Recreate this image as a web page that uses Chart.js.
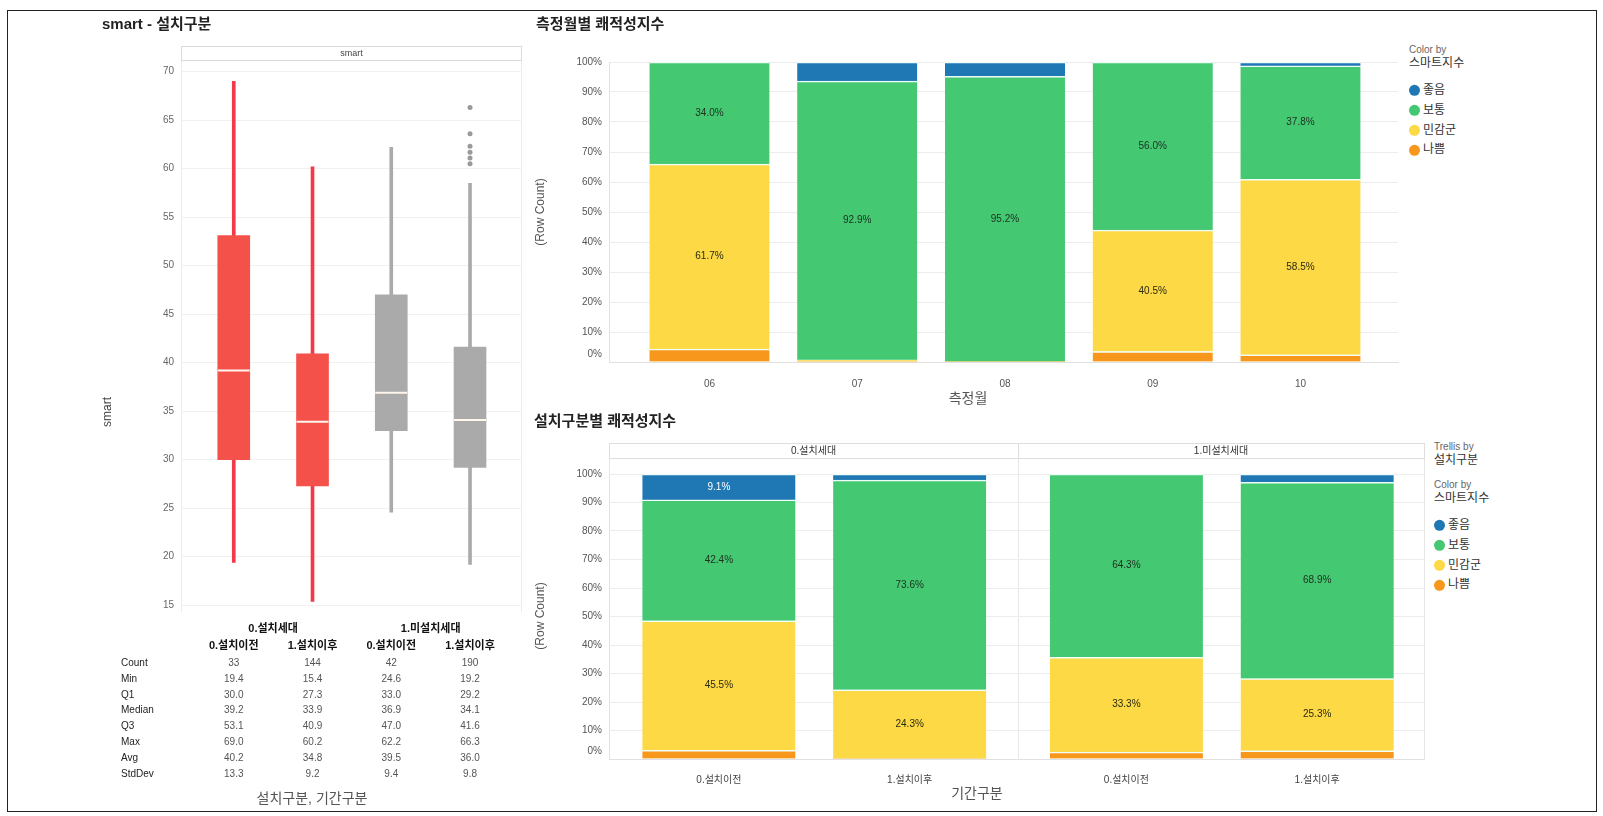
<!DOCTYPE html>
<html>
<head>
<meta charset="utf-8">
<script src="https://cdn.jsdelivr.net/npm/chart.js@4.4.0/dist/chart.umd.min.js"></script>
<style>
	body {
		margin: 0;
		width: 1603px;
		height: 816px;
		position: relative;
		overflow: hidden;
		background: #fff;
		font-family: "Liberation Sans", "Noto Sans CJK KR", sans-serif;
	}
	#frame {
		position: absolute;
		left: 7px;
		top: 10px;
		width: 1590px;
		height: 802px;
		border: 1.5px solid #222;
		box-sizing: border-box;
	}
	canvas {
		position: absolute;
	}
	.txt {
		position: absolute;
		white-space: nowrap;
		line-height: 1;
	}
	.dot {
		display: inline-block;
		width: 11px;
		height: 11px;
		border-radius: 50%;
		vertical-align: middle;
		margin-right: 3px;
	}
</style>
</head>
<body>
<div id="frame"></div>
<canvas id="box" width="540" height="816" style="left:0;top:0"></canvas>
<canvas id="month" width="880" height="370" style="left:520px;top:40px"></canvas>
<canvas id="inst" width="910" height="386" style="left:520px;top:430px"></canvas>
<script>
// ---- box plot : smart by 설치구분 / 기간구분 ----
const boxGroups = ["0.설치세대", "1.미설치세대"];
const boxPeriods = ["0.설치이전", "1.설치이후", "0.설치이전", "1.설치이후"];
const boxCount = [33, 144, 42, 190];
const boxMin = [19.4, 15.4, 24.6, 19.2];
const boxQ1 = [30.0, 27.3, 33.0, 29.2];
const boxMedian = [39.2, 33.9, 36.9, 34.1];
const boxQ3 = [53.1, 40.9, 47.0, 41.6];
const boxMax = [69.0, 60.2, 62.2, 66.3];
const boxAvg = [40.2, 34.8, 39.5, 36.0];
const boxStd = [13.3, 9.2, 9.4, 9.8];
const whiskerTop = [69.0, 60.2, 62.2, 58.5];
const outlierBox = [4, 4, 4, 4, 4, 4];
const outlierVal = [66.3, 63.6, 62.3, 61.7, 61.1, 60.5];
const boxTicks = [15, 20, 25, 30, 35, 40, 45, 50, 55, 60, 65, 70];

// ---- 측정월별 쾌적성지수 (%) ----
const months = ["06", "07", "08", "09", "10"];
const levels = ["좋음", "보통", "민감군", "나쁨"];
const monthGood = [0, 6.4, 4.8, 0, 1.3];
const monthNormal = [34.0, 92.9, 95.2, 56.0, 37.8];
const monthSensitive = [61.7, 0.7, 0, 40.5, 58.5];
const monthBad = [4.3, 0, 0, 3.5, 2.4];

// ---- 설치구분별 쾌적성지수 (%) ----
const trellis = ["0.설치세대", "1.미설치세대"];
const periods = ["0.설치이전", "1.설치이후", "0.설치이전", "1.설치이후"];
const instPanel = [0, 0, 1, 1];
const instPeriod = [0, 1, 0, 1];
const instGood = [9.1, 2.1, 0, 2.9];
const instNormal = [42.4, 73.6, 64.3, 68.9];
const instSensitive = [45.5, 24.3, 33.3, 25.3];
const instBad = [3.0, 0, 2.4, 2.9];
const pctTicks = [0, 10, 20, 30, 40, 50, 60, 70, 80, 90, 100];

const levelColors = ["#1f77b4", "#44c872", "#fdd945", "#f7971c"];
const labelColors = ["#ffffff", "#1d2f1f", "#2a2a10", "#222222"];
const boxFill = ["#f5514b", "#f5514b", "#aaaaaa", "#aaaaaa"];
const whiskerFill = ["#f23a4a", "#f23a4a", "#aaaaaa", "#aaaaaa"];
const FONT = '"Liberation Sans", "Noto Sans CJK KR", sans-serif';
const PANEL_SPAN = 2.136; // distance between trellis panels, in bar slots

Chart.defaults.font.family = FONT;
Chart.defaults.animation = false;

function addText(text, x, y, css, anchor) {
	var d = document.createElement("div");
	d.className = "txt";
	d.textContent = text;
	d.style.cssText += css;
	d.style.left = x + "px";
	d.style.top = y + "px";
	if (anchor === "rot") {
		d.style.transform = "translate(-50%,-50%) rotate(-90deg)";
	} else if (anchor === "center") {
		d.style.transform = "translate(-50%,-50%)";
	} else {
		d.style.transform = "translate(0,-50%)";
	}
	document.body.appendChild(d);
}

function addLegend(x, y, trellisName) {
	var yy = y;
	if (trellisName) {
		addText("Trellis by", x, yy, "font-size:10px;color:#666");
		addText(trellisName, x, yy + 13, "font-size:12px;color:#333");
		yy += 38;
	}
	addText("Color by", x, yy, "font-size:10px;color:#666");
	addText("스마트지수", x, yy + 13, "font-size:12px;color:#333");
	levels.forEach(function (lv, i) {
		var d = document.createElement("div");
		d.className = "txt";
		d.style.left = x + "px";
		d.style.top = yy + 40 + i * 19.8 + "px";
		d.style.transform = "translate(0,-50%)";
		d.style.fontSize = "12px";
		d.style.color = "#333";
		d.innerHTML = '<span class="dot" style="background:' + levelColors[i] + '"></span>' + lv;
		document.body.appendChild(d);
	});
}

function stackSets(series, thickness) {
	// drawn bottom-up: 나쁨, 민감군, 보통, 좋음
	return [3, 2, 1, 0].map(function (k) {
		return {
			label: levels[k],
			data: series[k],
			backgroundColor: levelColors[k],
			borderColor: "rgba(240,255,250,0.95)",
			borderWidth: { top: 1.5, right: 0, bottom: 0, left: 0 },
			borderSkipped: "start",
			barThickness: thickness,
			labelColor: labelColors[k],
		};
	});
}

var segLabels = {
	id: "segLabels",
	afterDatasetsDraw: function (chart) {
		var ctx = chart.ctx;
		ctx.save();
		ctx.font = "10px " + FONT;
		ctx.textAlign = "center";
		ctx.textBaseline = "middle";
		chart.data.datasets.forEach(function (ds, di) {
			chart.getDatasetMeta(di).data.forEach(function (bar, i) {
				var v = ds.data[i].y;
				if (v < 9) return;
				ctx.fillStyle = ds.labelColor;
				ctx.fillText(v.toFixed(1) + "%", bar.x, (bar.y + bar.base) / 2);
			});
		});
		// the 0% label sits a little above the baseline
		var a = chart.chartArea;
		ctx.textAlign = "right";
		ctx.fillStyle = "#555";
		ctx.fillText(pctTicks[0] + "%", a.left - 7, chart.scales.y.getPixelForValue(pctTicks[0]) - 8);
		ctx.restore();
	},
};

function pctY(width) {
	return {
		stacked: true,
		min: 0,
		max: 100,
		afterBuildTicks: function (axis) {
			axis.ticks = pctTicks.map(function (v) {
				return { value: v };
			});
		},
		afterFit: function (axis) {
			axis.width = width;
		},
		ticks: {
			color: "#555",
			font: { size: 10 },
			padding: 7,
			callback: function (v, i) {
				return i === 0 ? "" : v + "%";
			},
		},
		grid: { color: "#ededed", drawTicks: false },
		border: { color: "#e3e3e3" },
	};
}

// ---------- box plot ----------
var boxTable = {
	id: "boxTable",
	beforeDraw: function (chart) {
		var ctx = chart.ctx;
		var a = chart.chartArea;
		ctx.save();
		ctx.strokeStyle = "#ececec";
		ctx.lineWidth = 1;
		ctx.beginPath();
		ctx.moveTo(a.left + 0.5, 46);
		ctx.lineTo(a.left + 0.5, a.bottom);
		ctx.moveTo(a.right - 0.5, 46);
		ctx.lineTo(a.right - 0.5, a.bottom);
		ctx.stroke();
		ctx.strokeStyle = "#dadada";
		ctx.strokeRect(a.left + 0.5, 46.5, a.right - a.left - 1, 14);
		ctx.fillStyle = "#444";
		ctx.font = "9px " + FONT;
		ctx.textAlign = "center";
		ctx.textBaseline = "middle";
		ctx.fillText("smart", (a.left + a.right) / 2, 54);
		ctx.restore();
	},
	afterDraw: function (chart) {
		var ctx = chart.ctx;
		var xs = chart.scales.x;
		ctx.save();
		ctx.textAlign = "center";
		ctx.textBaseline = "middle";
		ctx.fillStyle = "#111";
		ctx.font = "bold 11px " + FONT;
		boxGroups.forEach(function (g, k) {
			var x = (xs.getPixelForValue(2 * k + 1) + xs.getPixelForValue(2 * k + 2)) / 2;
			ctx.fillText(g, x, 629);
		});
		boxPeriods.forEach(function (p, i) {
			ctx.fillText(p, xs.getPixelForValue(i + 1), 646);
		});
		var rows = [
			["Count", boxCount, 0],
			["Min", boxMin, 1],
			["Q1", boxQ1, 1],
			["Median", boxMedian, 1],
			["Q3", boxQ3, 1],
			["Max", boxMax, 1],
			["Avg", boxAvg, 1],
			["StdDev", boxStd, 1],
		];
		ctx.font = "10px " + FONT;
		rows.forEach(function (r, j) {
			var y = 663 + j * 15.9;
			ctx.textAlign = "left";
			ctx.fillStyle = "#222";
			ctx.fillText(r[0], 121, y);
			ctx.textAlign = "center";
			ctx.fillStyle = "#555";
			r[1].forEach(function (v, i) {
				ctx.fillText(v.toFixed(r[2]), xs.getPixelForValue(i + 1), y);
			});
		});
		ctx.restore();
	},
};

function atBox(arr) {
	return arr.map(function (v, i) {
		return { x: i + 1, y: v };
	});
}

new Chart(document.getElementById("box"), {
	type: "bar",
	data: {
		datasets: [
			{
				type: "line",
				data: atBox(boxMedian),
				showLine: false,
				pointStyle: "line",
				pointRadius: 16,
				pointBorderWidth: 2,
				pointBorderColor: "#fff6ee",
			},
			{
				type: "line",
				data: outlierVal.map(function (v, i) {
					return { x: outlierBox[i], y: v };
				}),
				showLine: false,
				pointRadius: 2.5,
				pointBackgroundColor: "#9a9a9a",
				pointBorderWidth: 0,
			},
			{
				data: boxQ1.map(function (q, i) {
					return { x: i + 1, y: [q, boxQ3[i]] };
				}),
				backgroundColor: boxFill,
				barThickness: 32,
				grouped: false,
			},
			{
				data: boxMin.map(function (m, i) {
					return { x: i + 1, y: [m, whiskerTop[i]] };
				}),
				backgroundColor: whiskerFill,
				barThickness: 3,
				grouped: false,
			},
		],
	},
	options: {
		responsive: false,
		layout: { padding: { top: 60, right: 16, bottom: 204, left: 0 } },
		plugins: { legend: { display: false }, tooltip: { enabled: false } },
		scales: {
			x: { type: "linear", offset: false, min: 0.33, max: 4.66, display: false },
			y: {
				min: 14.3,
				max: 71.2,
				afterBuildTicks: function (axis) {
					axis.ticks = boxTicks.map(function (v) {
						return { value: v };
					});
				},
				afterFit: function (axis) {
					axis.width = 181;
				},
				ticks: { color: "#666", font: { size: 10 }, padding: 7 },
				grid: { color: "#f0f0f0", drawTicks: false },
				border: { display: false },
			},
		},
	},
	plugins: [boxTable],
});

// ---------- 측정월별 ----------
function byMonth(arr) {
	return arr.map(function (v, i) {
		return { x: i, y: v };
	});
}

new Chart(document.getElementById("month"), {
	type: "bar",
	data: {
		datasets: stackSets(
			[byMonth(monthGood), byMonth(monthNormal), byMonth(monthSensitive), byMonth(monthBad)],
			120
		),
	},
	options: {
		responsive: false,
		layout: { padding: { top: 22, right: 2, bottom: 0, left: 0 } },
		plugins: { legend: { display: false }, tooltip: { enabled: false } },
		scales: {
			x: {
				type: "linear",
				offset: false,
				stacked: true,
				min: -0.68,
				max: 4.66,
				afterBuildTicks: function (axis) {
					axis.ticks = months.map(function (m, i) {
						return { value: i };
					});
				},
				afterFit: function (axis) {
					axis.height = 48;
				},
				ticks: {
					color: "#555",
					font: { size: 10 },
					padding: 8,
					autoSkip: false,
					maxRotation: 0,
					callback: function (v) {
						return months[v];
					},
				},
				grid: { display: false },
				border: { color: "#e0e0e0" },
			},
			y: pctY(89),
		},
	},
	plugins: [segLabels],
});

// ---------- 설치구분별 ----------
var instPos = instPanel.map(function (p, i) {
	return p * PANEL_SPAN + instPeriod[i];
});

function byInst(arr) {
	return arr.map(function (v, i) {
		return { x: instPos[i], y: v };
	});
}

var trellisPlugin = {
	id: "trellis",
	beforeDraw: function (chart) {
		var ctx = chart.ctx;
		var a = chart.chartArea;
		var xs = chart.scales.x;
		var mid = xs.getPixelForValue((instPos[1] + instPos[2]) / 2);
		var edges = [a.left, mid, a.right];
		ctx.save();
		ctx.strokeStyle = "#e6e6e6";
		ctx.lineWidth = 1;
		ctx.beginPath();
		edges.forEach(function (x) {
			ctx.moveTo(Math.round(x) + 0.5, 13);
			ctx.lineTo(Math.round(x) + 0.5, a.bottom);
		});
		ctx.stroke();
		ctx.strokeStyle = "#dedede";
		ctx.font = "10px " + FONT;
		ctx.fillStyle = "#333";
		ctx.textAlign = "center";
		ctx.textBaseline = "middle";
		trellis.forEach(function (t, k) {
			ctx.strokeRect(edges[k] + 0.5, 13.5, edges[k + 1] - edges[k], 15);
			ctx.fillText(t, (edges[k] + edges[k + 1]) / 2, 21);
		});
		ctx.restore();
	},
};

new Chart(document.getElementById("inst"), {
	type: "bar",
	data: {
		datasets: stackSets([byInst(instGood), byInst(instNormal), byInst(instSensitive), byInst(instBad)], 153),
	},
	options: {
		responsive: false,
		layout: { padding: { top: 44, right: 6, bottom: 0, left: 0 } },
		plugins: { legend: { display: false }, tooltip: { enabled: false } },
		scales: {
			x: {
				type: "linear",
				offset: false,
				stacked: true,
				min: -0.576,
				max: 3.696,
				afterBuildTicks: function (axis) {
					axis.ticks = instPos.map(function (v) {
						return { value: v };
					});
				},
				afterFit: function (axis) {
					axis.height = 57;
				},
				ticks: {
					color: "#444",
					font: { size: 10 },
					padding: 7,
					autoSkip: false,
					maxRotation: 0,
					callback: function (v, i) {
						return periods[i];
					},
				},
				grid: { display: false },
				border: { color: "#e0e0e0" },
			},
			y: pctY(89),
		},
	},
	plugins: [trellisPlugin, segLabels],
});

// ---------- titles, axis names, legends ----------
var TITLE = "font-size:15px;font-weight:bold;color:#222";
addText("smart - 설치구분", 102, 23, TITLE);
addText("측정월별 쾌적성지수", 536, 23, TITLE);
addText("설치구분별 쾌적성지수", 534, 420, TITLE);
addText("smart", 107, 412, "font-size:12px;color:#444", "rot");
addText("(Row Count)", 540, 212, "font-size:12px;color:#555", "rot");
addText("(Row Count)", 540, 616, "font-size:12px;color:#555", "rot");
addText("측정월", 968, 398, "font-size:14px;color:#555", "center");
addText("기간구분", 977, 793, "font-size:14px;color:#555", "center");
addText("설치구분, 기간구분", 312, 798, "font-size:14px;color:#555", "center");
addLegend(1409, 50);
addLegend(1434, 447, "설치구분");
</script>
</body>
</html>
